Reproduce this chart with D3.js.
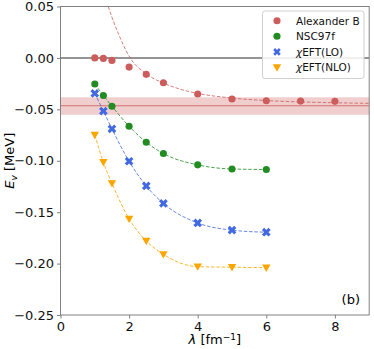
<!DOCTYPE html>
<html>
<head>
<meta charset="utf-8">
<script src="https://cdn.jsdelivr.net/npm/d3@7"></script>
<style>
body { margin: 0; background: white; }
text { font-family: "DejaVu Sans", sans-serif; }
</style>
</head>
<body>
<div id="chart"></div>
<script>
// data
var lambdaAB = [1, 1.25, 1.5, 2, 2.5, 3, 4, 5, 6, 7, 8]
var energyAB = [0.0, -0.0005, -0.0024, -0.0089, -0.016, -0.0242, -0.0351, -0.040, -0.0417, -0.042, -0.0422]
var fitLambdaAB = [1.39, 1.5, 1.685, 2.03, 2.5, 3, 3.5, 4, 5, 6, 7, 8, 9]
var fitEnergyAB = [0.05, 0.0395, 0.0238, 0.0, -0.0155, -0.0245, -0.0305, -0.0345, -0.039, -0.0415, -0.0428, -0.0436, -0.0442]

var lambdaSets = [1, 1.25, 1.5, 2, 2.5, 3, 4, 5, 6]
var energyNSC = [-0.0254, -0.0365, -0.047, -0.0665, -0.082, -0.093, -0.104, -0.108, -0.1085]
var energyLO = [-0.0345, -0.0517, -0.069, -0.1005, -0.1245, -0.1415, -0.1605, -0.1675, -0.1695]
var energyNLO = [-0.075, -0.1015, -0.122, -0.1565, -0.178, -0.191, -0.203, -0.2035, -0.204]

var bandLow = -0.0553, bandHigh = -0.0383, bandCenter = -0.0465

var xTicks = [0, 2, 4, 6, 8]
var yTicks = [0.05, 0.0, -0.05, -0.10, -0.15, -0.20, -0.25]

var W = 374, H = 349
var mLeft = 60.5, mRight = 369.2, mTop = 6.5, mBottom = 315

var svg = d3.select("#chart").append("svg")
    .attr("width", W).attr("height", H)

var x = d3.scaleLinear().domain([0, 9]).range([mLeft, mRight])
var y = d3.scaleLinear().domain([-0.25, 0.05]).range([mBottom, mTop])

svg.append("clipPath").attr("id", "clip")
  .append("rect").attr("x", mLeft).attr("y", mTop)
  .attr("width", mRight - mLeft).attr("height", mBottom - mTop)

var plot = svg.append("g").attr("clip-path", "url(#clip)")

// band
plot.append("rect")
    .attr("x", mLeft).attr("width", mRight - mLeft)
    .attr("y", y(bandHigh)).attr("height", y(bandLow) - y(bandHigh))
    .style("fill", "#cd5c5c").style("opacity", 0.3)
plot.append("line")
    .attr("x1", mLeft).attr("x2", mRight)
    .attr("y1", y(bandCenter)).attr("y2", y(bandCenter))
    .style("stroke", "#cd5c5c").style("stroke-width", 1.2).style("opacity", 0.8)

// zero line
plot.append("line")
    .attr("x1", mLeft).attr("x2", mRight)
    .attr("y1", y(0)).attr("y2", y(0))
    .style("stroke", "#707070").style("stroke-width", 1.5)

var line = d3.line().x(function(d) { return x(d[0]) }).y(function(d) { return y(d[1]) })
    .curve(d3.curveMonotoneX)

function dashed(xs, ys, color) {
  plot.append("path")
      .datum(d3.zip(xs, ys))
      .attr("d", line)
      .style("fill", "none").style("stroke", color)
      .style("stroke-width", 1).style("stroke-dasharray", "3.5,1.8")
      .style("opacity", 0.8)
}

var colAB = "#cd5c5c", colNSC = "#228b22", colLO = "#4169e1", colNLO = "#ffa500"

dashed(fitLambdaAB, fitEnergyAB, colAB)
dashed(lambdaSets, energyNSC, colNSC)
dashed(lambdaSets, energyLO, colLO)
dashed(lambdaSets, energyNLO, colNLO)

var circlePath = d3.symbol().type(d3.symbolCircle).size(40)()
// filled "X" like matplotlib: a thick plus turned 45 degrees
function xMarker(s, t) {
  var pts = [[-t,-s],[t,-s],[t,-t],[s,-t],[s,t],[t,t],[t,s],[-t,s],[-t,t],[-s,t],[-s,-t],[-t,-t]]
  var c = Math.SQRT1_2
  return "M" + pts.map(function(p) {
    return [(p[0] - p[1]) * c, (p[0] + p[1]) * c].map(function(v) { return v.toFixed(2) }).join(",")
  }).join("L") + "Z"
}
var xPath = xMarker(4.6, 1.55)
var triPath = "M-4.2,-3.2L4.2,-3.2L0,4.2Z"

function markers(xs, ys, path, color) {
  plot.append("g").selectAll("path")
      .data(d3.zip(xs, ys))
      .join("path")
      .attr("transform", function(d) { return "translate(" + x(d[0]) + "," + y(d[1]) + ")" })
      .attr("d", path)
      .style("fill", color)
}

markers(lambdaAB, energyAB, circlePath, colAB)
markers(lambdaSets, energyNSC, circlePath, colNSC)
markers(lambdaSets, energyLO, xPath, colLO)
markers(lambdaSets, energyNLO, triPath, colNLO)

// frame
svg.append("rect")
    .attr("x", mLeft).attr("y", mTop)
    .attr("width", mRight - mLeft).attr("height", mBottom - mTop)
    .style("fill", "none").style("stroke", "#808080").style("stroke-width", 1)

// axes
var xAxis = svg.append("g")
    .attr("transform", "translate(0," + mBottom + ")")
    .call(d3.axisBottom(x).tickValues(xTicks).tickSize(3.5).tickPadding(3).tickFormat(d3.format("d")))
var yAxis = svg.append("g")
    .attr("transform", "translate(" + mLeft + ",0)")
    .call(d3.axisLeft(y).tickValues(yTicks).tickSize(3.5).tickPadding(3)
      .tickFormat(function(d) { return d3.format(".2f")(d).replace("-", "\u2212") }))
;[xAxis, yAxis].forEach(function(a) {
  a.select(".domain").remove()
  a.selectAll(".tick line").style("stroke", "#808080")
  a.selectAll(".tick text").style("font-size", "13px").style("fill", "#111")
    .style("font-family", "DejaVu Sans, sans-serif")
})

// axis labels
var yl = svg.append("text")
    .attr("transform", "translate(14," + ((mTop + mBottom) / 2) + ") rotate(-90)")
    .attr("text-anchor", "middle")
    .style("font-size", "13px")
yl.append("tspan").text("E").style("font-style", "italic")
yl.append("tspan").text("v").attr("dy", 3).style("font-size", "9px").style("font-style", "italic")
yl.append("tspan").text(" [MeV]").attr("dy", -3)

var xl = svg.append("text")
    .attr("x", (mLeft + mRight) / 2).attr("y", 344)
    .attr("text-anchor", "middle")
    .style("font-size", "13px")
xl.append("tspan").text("\u03bb").style("font-style", "italic")
xl.append("tspan").text(" [fm")
xl.append("tspan").text("\u22121").attr("dy", -4.5).style("font-size", "9px")
xl.append("tspan").text("]").attr("dy", 4.5)

svg.append("text")
    .attr("x", 360).attr("y", 304)
    .attr("text-anchor", "end")
    .style("font-size", "13px")
    .text("(b)")

// legend
var legNames = ["Alexander B", "NSC97f", "\u03c7EFT(LO)", "\u03c7EFT(NLO)"]
var legColors = [colAB, colNSC, colLO, colNLO]
var legShapes = [circlePath, circlePath, xMarker(4, 1.35), triPath]

var leg = svg.append("g")
leg.append("rect")
    .attr("x", 262.5).attr("y", 11).attr("width", 101.5).attr("height", 67.5)
    .attr("rx", 2.5)
    .style("fill", "white").style("fill-opacity", 0.85)
    .style("stroke", "#d0d0d0").style("stroke-width", 1)

legNames.forEach(function(name, i) {
  var yy = 20.7 + i * 15.6
  leg.append("path")
      .attr("transform", "translate(277," + yy + ")")
      .attr("d", legShapes[i])
      .style("fill", legColors[i])
  var t = leg.append("text")
      .attr("x", 296).attr("y", yy + 3.8)
      .style("font-size", "10.5px").style("fill", "#111")
  if (i >= 2) {
    t.append("tspan").text("\u03c7").style("font-style", "italic")
    t.append("tspan").text(name.slice(1))
  } else {
    t.text(name)
  }
})
</script>
</body>
</html>
